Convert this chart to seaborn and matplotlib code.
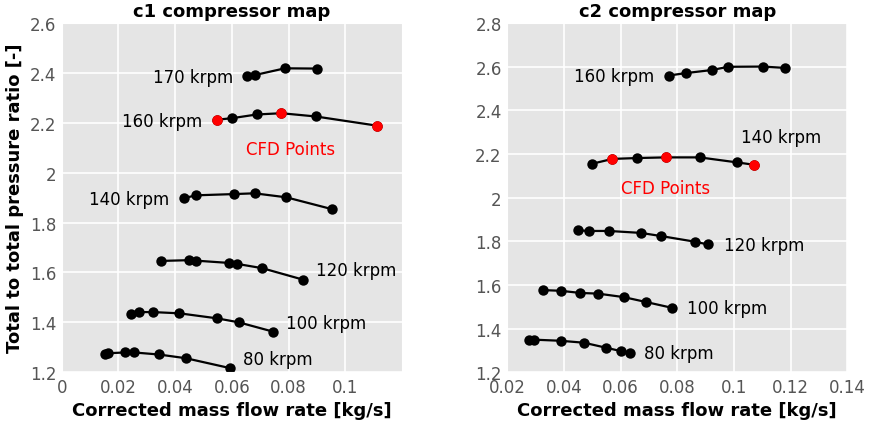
import matplotlib
matplotlib.use("Agg")
import matplotlib.pyplot as plt
from matplotlib.ticker import FormatStrFormatter
import seaborn as sns
import pandas as pd

# c1 compressor speed lines
C1_SPEEDS = ["170 krpm", "160 krpm", "140 krpm", "120 krpm", "100 krpm", "80 krpm"]
C1_MFR = [
    [0.0655, 0.0681, 0.0787, 0.0899],
    [0.0547, 0.0600, 0.0688, 0.0775, 0.0896, 0.1113],
    [0.0431, 0.0475, 0.0609, 0.0680, 0.0792, 0.0955],
    [0.0351, 0.0448, 0.0475, 0.0589, 0.0619, 0.0707, 0.0851],
    [0.0245, 0.0272, 0.0321, 0.0415, 0.0547, 0.0624, 0.0744],
    [0.0154, 0.0163, 0.0222, 0.0256, 0.0342, 0.0438, 0.0595],
]
C1_PR = [
    [2.388, 2.391, 2.418, 2.417],
    [2.212, 2.218, 2.233, 2.238, 2.225, 2.188],
    [1.898, 1.909, 1.914, 1.917, 1.901, 1.853],
    [1.646, 1.649, 1.647, 1.638, 1.634, 1.617, 1.571],
    [1.434, 1.441, 1.441, 1.436, 1.416, 1.400, 1.363],
    [1.274, 1.276, 1.279, 1.279, 1.271, 1.256, 1.216],
]
C1_CFD_MFR = [0.0547, 0.0775, 0.1113]
C1_CFD_PR = [2.212, 2.238, 2.188]

# c2 compressor speed lines
C2_SPEEDS = ["160 krpm", "140 krpm", "120 krpm", "100 krpm", "80 krpm"]
C2_MFR = [
    [0.0771, 0.0829, 0.0921, 0.0980, 0.1102, 0.1179],
    [0.0500, 0.0571, 0.0658, 0.0759, 0.0879, 0.1011, 0.1072],
    [0.0449, 0.0487, 0.0559, 0.0672, 0.0741, 0.0861, 0.0909],
    [0.0327, 0.0388, 0.0458, 0.0520, 0.0611, 0.0688, 0.0781],
    [0.0278, 0.0295, 0.0388, 0.0471, 0.0549, 0.0600, 0.0632],
]
C2_PR = [
    [2.559, 2.570, 2.584, 2.599, 2.600, 2.594],
    [2.155, 2.177, 2.181, 2.184, 2.184, 2.161, 2.150],
    [1.850, 1.847, 1.847, 1.838, 1.824, 1.798, 1.785],
    [1.576, 1.573, 1.563, 1.560, 1.544, 1.522, 1.495],
    [1.348, 1.349, 1.344, 1.335, 1.312, 1.297, 1.288],
]
C2_CFD_MFR = [0.0571, 0.0759, 0.1072]
C2_CFD_PR = [2.177, 2.184, 2.150]

# label anchors (x, y, ha)
C1_LABELS = [(0.0604, 2.382, "right"), (0.0494, 2.206, "right"), (0.0379, 1.893, "right"),
             (0.0896, 1.609, "left"), (0.0791, 1.398, "left"), (0.0640, 1.252, "left")]
C1_CFD_LABEL = (0.0649, 2.096)
C2_LABELS = [(0.0719, 2.556, "right"), (0.1025, 2.279, "left"), (0.0963, 1.781, "left"),
             (0.0834, 1.493, "left"), (0.0684, 1.287, "left")]
C2_CFD_LABEL = (0.0601, 2.046)

sns.set_style("darkgrid", {"axes.facecolor": "#E5E5E5", "grid.color": "white"})
plt.rcParams["font.family"] = ["DejaVu Sans"]
plt.rcParams["text.color"] = "black"
plt.rcParams["axes.labelcolor"] = "black"

fig = plt.figure(figsize=(8.7, 4.27), dpi=100)
ax1 = fig.add_axes([0.071, 0.126, 0.391, 0.818])
ax2 = fig.add_axes([0.583, 0.126, 0.391, 0.818])


def draw_map(ax, speeds, mfr, pr, cfd_x, cfd_y, labels, cfd_label):
    for name, x, y in zip(speeds, mfr, pr):
        df = pd.DataFrame({"mfr": x, "pr": y})
        sns.lineplot(data=df, x="mfr", y="pr", ax=ax, color="black", linewidth=1.6,
                     marker="o", markersize=7.5, markeredgewidth=0, sort=False,
                     estimator=None)
    cfd = pd.DataFrame({"mfr": cfd_x, "pr": cfd_y})
    sns.scatterplot(data=cfd, x="mfr", y="pr", ax=ax, color="red", s=58,
                    linewidth=0, zorder=5)
    for name, (tx, ty, ha) in zip(speeds, labels):
        ax.text(tx, ty, name, ha=ha, va="center", fontsize=12, color="black")
    ax.text(cfd_label[0], cfd_label[1], "CFD Points", ha="left", va="center",
            fontsize=12, color="red")


draw_map(ax1, C1_SPEEDS, C1_MFR, C1_PR, C1_CFD_MFR, C1_CFD_PR, C1_LABELS, C1_CFD_LABEL)
draw_map(ax2, C2_SPEEDS, C2_MFR, C2_PR, C2_CFD_MFR, C2_CFD_PR, C2_LABELS, C2_CFD_LABEL)

ax1.set_xlim(0, 0.12)
ax1.set_ylim(1.2, 2.6)
ax1.set_xticks([0, 0.02, 0.04, 0.06, 0.08, 0.1])
ax1.set_yticks([1.2, 1.4, 1.6, 1.8, 2.0, 2.2, 2.4, 2.6])
ax2.set_xlim(0.02, 0.14)
ax2.set_ylim(1.2, 2.8)
ax2.set_xticks([0.02, 0.04, 0.06, 0.08, 0.1, 0.12, 0.14])
ax2.set_yticks([1.2, 1.4, 1.6, 1.8, 2.0, 2.2, 2.4, 2.6, 2.8])

for ax, title in [(ax1, "c1 compressor map"), (ax2, "c2 compressor map")]:
    ax.xaxis.set_major_formatter(FormatStrFormatter("%g"))
    ax.yaxis.set_major_formatter(FormatStrFormatter("%g"))
    ax.tick_params(length=0, labelsize=12, labelcolor="#555555", pad=4)
    ax.set_title(title, fontsize=13, fontweight="bold", pad=5, color="black")
    ax.set_xlabel("Corrected mass flow rate [kg/s]", fontsize=13, fontweight="bold")
    ax.set_ylabel("")
    ax.grid(True, color="white", linewidth=1.2)

ax1.set_ylabel("Total to total pressure ratio [-]", fontsize=13, fontweight="bold")

fig.savefig("out.png", dpi=100)
